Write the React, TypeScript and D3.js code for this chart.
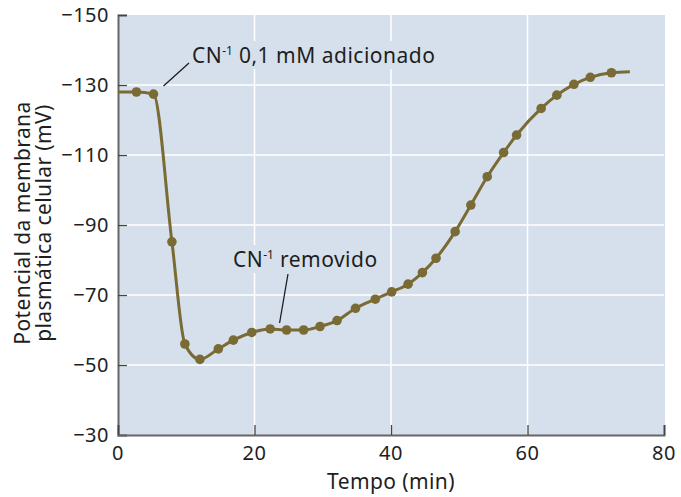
import React, { useEffect, useRef } from "react";
import * as d3 from "d3";

// time (min) and membrane potential (mV)
const lineTimes = [0, 2.7, 5.2, 7.9, 9.8, 12.0, 14.7, 16.9, 19.6, 22.3, 24.7, 27.2, 29.6, 32.1, 34.8, 37.7, 40.1, 42.5, 44.6, 46.6, 49.4, 51.7, 54.1, 56.5, 58.4, 62.0, 64.3, 66.8, 69.2, 72.3, 75.0];
const lineValues = [-128, -128, -127.4, -85.2, -56, -51.6, -54.6, -57.1, -59.3, -60.3, -60, -60, -61, -62.7, -66.2, -68.8, -70.9, -73.1, -76.4, -80.5, -88.1, -95.7, -103.8, -110.7, -115.7, -123.3, -127.1, -130.2, -132.2, -133.5, -133.8];
// first and last entries are line ends only, no marker
const xTicks = [0, 20, 40, 60, 80];
const yTicks = [-150, -130, -110, -90, -70, -50, -30];

const W = 681;
const H = 497;
const margin = { top: 15, right: 17, bottom: 62, left: 118 };
const FONT = "'Noto Sans', 'Open Sans', sans-serif";
const INK = "#1e1e1e";
const OLIVE = "#7a6a33";
const BG = "#d6e0ec";

const App = () => {
  const ref = useRef<SVGSVGElement>(null);

  useEffect(() => {
    const svg = d3.select(ref.current);
    svg.selectAll("*").remove();

    const x = d3.scaleLinear().domain([0, 80]).range([margin.left, W - margin.right]);
    const y = d3.scaleLinear().domain([-150, -30]).range([margin.top, H - margin.bottom]);

    // plot background
    svg.append("rect")
      .attr("x", x(0)).attr("y", y(-150))
      .attr("width", x(80) - x(0) + 1).attr("height", y(-30) - y(-150))
      .attr("fill", BG);

    // white grid
    svg.append("g").selectAll("line")
      .data(xTicks.slice(1, -1))
      .join("line")
      .attr("x1", d => x(d)).attr("x2", d => x(d))
      .attr("y1", y(-150)).attr("y2", y(-30))
      .attr("stroke", "#fff").attr("stroke-width", 1.5);
    svg.append("g").selectAll("line")
      .data(yTicks.slice(1, -1))
      .join("line")
      .attr("x1", x(0)).attr("x2", x(80))
      .attr("y1", d => y(d)).attr("y2", d => y(d))
      .attr("stroke", "#fff").attr("stroke-width", 1.5);

    // axes
    const yAxis = svg.append("g")
      .attr("transform", `translate(${x(0)},0)`)
      .call(d3.axisRight(y).tickValues(yTicks).tickSize(9).tickFormat(() => ""));
    yAxis.select(".domain").attr("stroke", "#666").attr("stroke-width", 2);
    yAxis.selectAll(".tick line").attr("stroke", "#444").attr("stroke-width", 1.3);

    const xAxis = svg.append("g")
      .attr("transform", `translate(0,${y(-30)})`)
      .call(d3.axisTop(x).tickValues(xTicks).tickSize(10).tickFormat(() => ""));
    xAxis.select(".domain").attr("stroke", "#666").attr("stroke-width", 2);
    xAxis.selectAll(".tick line").attr("stroke", "#444").attr("stroke-width", 1.3);

    // tick labels
    svg.append("g").selectAll("text")
      .data(yTicks)
      .join("text")
      .attr("x", x(0) - 9).attr("y", d => y(d) + 7)
      .attr("text-anchor", "end")
      .attr("font-family", FONT).attr("font-size", 20).attr("letter-spacing", 0.5).attr("fill", INK)
      .text(d => d3.format("")(d).replace("-", "\u2212"));
    svg.append("g").selectAll("text")
      .data(xTicks)
      .join("text")
      .attr("x", d => x(d)).attr("y", y(-30) + 25)
      .attr("text-anchor", "middle")
      .attr("font-family", FONT).attr("font-size", 20).attr("letter-spacing", 0.5).attr("fill", INK)
      .text(d => d);

    // axis titles
    svg.append("text")
      .attr("x", (x(0) + x(80)) / 2).attr("y", H - 8)
      .attr("text-anchor", "middle")
      .attr("font-family", FONT).attr("font-size", 21).attr("letter-spacing", 0.4).attr("fill", INK)
      .text("Tempo (min)");
    const yt = svg.append("text")
      .attr("transform", `translate(30,${(y(-150) + y(-30)) / 2 - 2}) rotate(-90)`)
      .attr("text-anchor", "middle")
      .attr("font-family", FONT).attr("font-size", 21).attr("letter-spacing", 0.4).attr("fill", INK);
    yt.append("tspan").attr("x", 0).attr("y", 0).text("Potencial da membrana");
    yt.append("tspan").attr("x", 0).attr("y", 21).text("plasmática celular (mV)");

    // annotation knockouts and text
    const note = (tx: number, ty: number, label: string) => {
      const g = svg.append("g");
      const bg = g.append("rect").attr("fill", BG);
      const t = g.append("text")
        .attr("x", tx).attr("y", ty)
        .attr("font-family", FONT).attr("font-size", 21).attr("letter-spacing", 0.5).attr("fill", INK);
      t.append("tspan").text("CN");
      t.append("tspan").attr("dy", -8).attr("font-size", 12).attr("letter-spacing", 0).text("-1");
      t.append("tspan").attr("dy", 8).text(label);
      const bb = (t.node() as SVGTextElement).getBBox();
      bg.attr("x", bb.x - 3).attr("y", bb.y).attr("width", bb.width + 6).attr("height", bb.height);
    };
    note(192, 63, " 0,1 mM adicionado");
    note(233, 267, " removido");

    // leader lines (anchored to data)
    svg.append("line")
      .attr("x1", x(lineTimes[2]) + 10).attr("y1", y(lineValues[2]) - 8)
      .attr("x2", 189).attr("y2", 63)
      .attr("stroke", INK).attr("stroke-width", 1.3);
    svg.append("line")
      .attr("x1", x(lineTimes[10]) - 7).attr("y1", y(lineValues[10]) - 7)
      .attr("x2", 288).attr("y2", 274)
      .attr("stroke", INK).attr("stroke-width", 1.3);

    // curve and markers
    const pts = lineTimes.map((t, i) => [t, lineValues[i]] as [number, number]);
    svg.append("path")
      .datum(pts)
      .attr("fill", "none")
      .attr("stroke", OLIVE)
      .attr("stroke-width", 3)
      .attr("d", d3.line<[number, number]>()
        .x(d => x(d[0]))
        .y(d => y(d[1]))
        .curve(d3.curveMonotoneX));
    svg.append("g").selectAll("circle")
      .data(pts.slice(1, -1))
      .join("circle")
      .attr("cx", d => x(d[0])).attr("cy", d => y(d[1]))
      .attr("r", 4.8)
      .attr("fill", OLIVE);
  }, []);

  return (
    <svg ref={ref} width={W} height={H} style={{ position: "absolute", left: 0, top: 0, background: "#fff" }} />
  );
};

export default App;
